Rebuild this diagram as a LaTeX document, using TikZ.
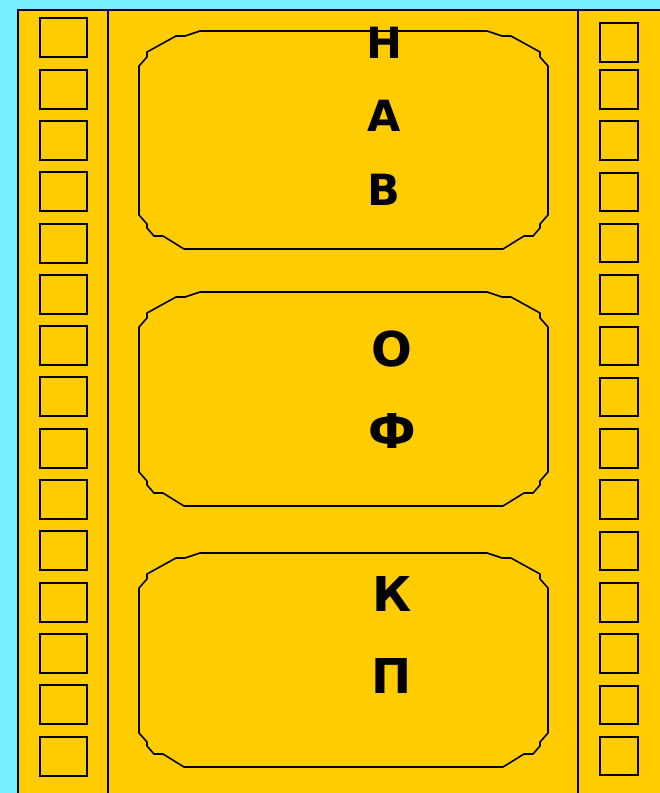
\documentclass[tikz,border=0pt]{standalone}
\usepackage{fontspec}
\setmainfont{DejaVu Sans}
\usepackage{tikz}
\definecolor{skycyan}{RGB}{118,238,255}
\definecolor{filmyellow}{RGB}{255,204,0}

\newcommand{\filmframe}[2]{%
  \draw[frameline] (139,{#2-34}) -- (139,{#1+35}) -- ++(8,-9) -- ++(0,-5) -- ++(29,-16) -- ++(9,0) -- ++(15,-5)
    -- (487,#1) -- ++(15,5) -- ++(9,0) -- ++(29,16) -- ++(0,5) -- ++(8,9)
    -- (548,{#2-34}) -- ++(-8,9) -- ++(0,4) -- ++(-7,8) -- ++(-9,0) -- ++(-21,13)
    -- (184,#2) -- ++(-21,-13) -- ++(-9,0) -- ++(-7,-8) -- ++(0,-4) -- cycle;}

\begin{document}
\begin{tikzpicture}[
  x=1pt, y=-1pt,
  edge/.style={draw=black, line width=2.4pt, line cap=rect},
  divider/.style={draw=black, line width=1.5pt},
  hole/.style={draw=black, line width=2pt},
  frameline/.style={draw=black, line width=1.6pt, line join=round},
  smallletter/.style={font=\fontsize{43}{43}\selectfont\bfseries, anchor=base, inner sep=0pt},
  bigletter/.style={font=\fontsize{48}{48}\selectfont\bfseries, anchor=base, inner sep=0pt},
]
\useasboundingbox (0,0) rectangle (660,793);
\fill[skycyan] (0,0) rectangle (660,793);
\fill[filmyellow] (18,10) rectangle (660,793);
\draw[edge] (18,793) -- (18,10) -- (660,10);
\draw[divider] (108,10) -- (108,793);
\draw[divider] (578,10) -- (578,793);

\foreach \k in {0,...,14}
  \draw[hole] (40,{18.3+51.3*\k}) rectangle ++(46.7,39);
\draw[hole] (600,23) rectangle ++(38.3,38.5);
\foreach \k in {1,...,14}
  \draw[hole] (600,{18.7+51.3*\k}) rectangle ++(38.3,38.5);

\filmframe{31}{249}
\filmframe{292}{506}
\filmframe{553}{767}

\node[smallletter] (en) at (384,58)  {Н};
\node[smallletter] (a)  at (384,131) {А};
\node[smallletter] (ve) at (384,205) {В};
\node[bigletter]   (o)  at (392,366) {О};
\node[bigletter]   (ef) at (392,448) {Ф};
\node[bigletter]   (ka) at (392,611) {К};
\node[bigletter]   (pe) at (392,693) {П};
\end{tikzpicture}
\end{document}
